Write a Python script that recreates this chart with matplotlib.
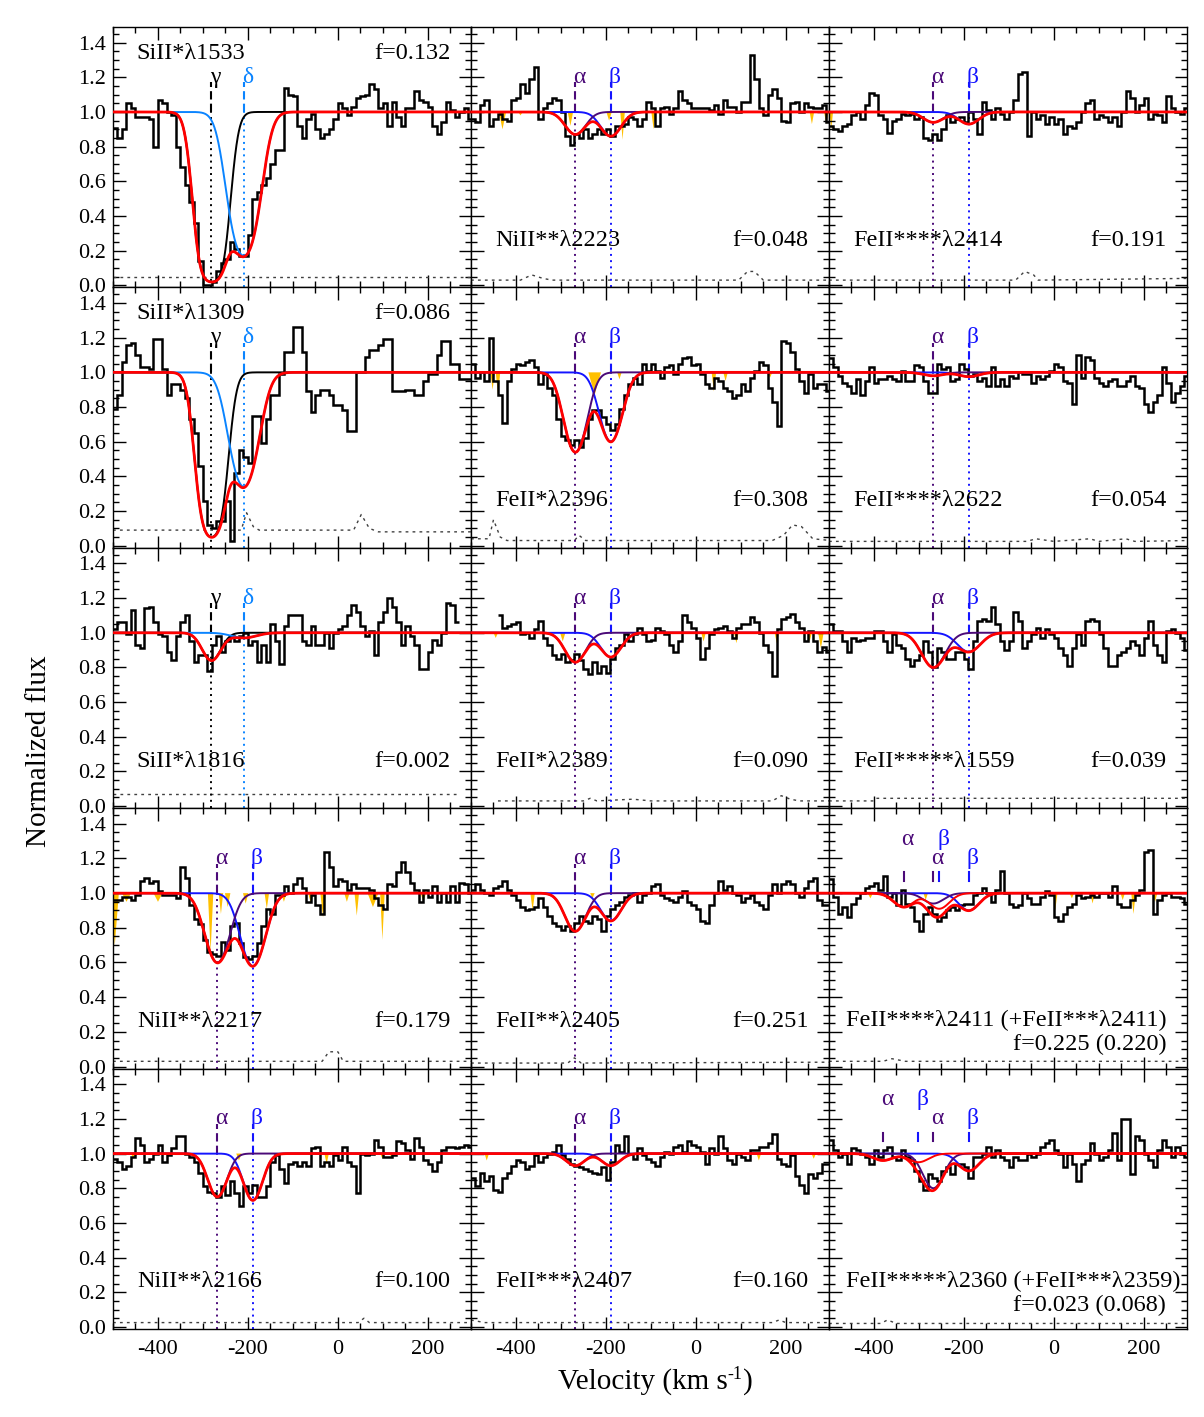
import numpy as np
import matplotlib.pyplot as plt
from matplotlib.ticker import MultipleLocator, FormatStrFormatter

plt.rcParams['font.family'] = ['Liberation Serif', 'DejaVu Serif']
plt.rcParams['axes.unicode_minus'] = False

nan = np.nan
# 10 km/s bins from -500 to 300 km/s
vel_edges = np.arange(-500, 301, 10)

# ---- normalized flux, one list per panel ----
flux_sii1533 = [0.91, 0.85, 0.90, 1.05, 1.02, 0.97, 0.97, 0.97, 0.96, 0.80,
                1.07, 1.05, 1.00, 0.98, 0.80, 0.68, 0.58, 0.48, 0.36, 0.14,
                0.00, 0.00, 0.02, 0.08, 0.13, 0.15, 0.25, 0.21, 0.17, 0.17,
                0.29, 0.50, 0.54, 0.58, 0.62, 0.70, 0.78, 0.78, 1.14, 1.10,
                1.09, 0.92, 0.85, 0.96, 0.99, 0.90, 0.85, 0.87, 0.90, 0.96,
                1.05, 1.02, 0.98, 1.03, 1.08, 1.09, 1.10, 1.16, 1.13, 1.02,
                1.05, 0.92, 1.06, 0.97, 0.92, 1.02, 1.02, 1.12, 1.07, 1.06,
                1.03, 0.92, 0.87, 0.94, 1.06, 1.01, 0.97, 1.00, 1.02, 0.96]
flux_sii1309 = [0.79, 0.87, 1.06, 1.16, 1.17, 1.10, 1.03, 1.03, 1.02, 1.19,
                1.19, 1.02, 0.87, 0.93, 0.93, 0.90, 0.85, 0.73, 0.65, 0.46,
                0.26, 0.12, 0.10, 0.14, 0.14, 0.26, 0.03, 0.42, 0.55, 0.51,
                0.48, 0.75, 0.75, 0.59, 0.73, 0.87, 0.87, 0.99, 1.12, 1.12,
                1.26, 1.26, 1.12, 0.89, 0.77, 0.87, 0.90, 0.90, 0.87, 0.81,
                0.81, 0.78, 0.66, 0.66, 1.00, 1.00, 1.09, 1.13, 1.13, 1.16,
                1.19, 1.19, 0.89, 0.89, 0.89, 0.90, 0.90, 0.87, 0.87, 0.95,
                0.99, 0.99, 1.10, 1.18, 1.18, 1.05, 1.05, 0.96, 0.96, 0.96]
flux_sii1816 = [1.02, 1.06, 1.06, 0.99, 1.13, 0.93, 0.91, 1.14, 1.15, 1.06,
                0.99, 0.98, 0.89, 0.84, 0.98, 1.06, 1.10, 0.95, 0.83, 0.87,
                0.87, 0.78, 0.93, 0.98, 0.89, 0.95, 0.98, 0.95, 0.98, 1.00,
                0.93, 0.95, 0.83, 0.93, 0.83, 1.05, 0.95, 0.82, 1.04, 1.10,
                1.10, 1.10, 0.95, 0.93, 1.04, 0.93, 0.93, 1.00, 0.91, 1.00,
                1.02, 1.04, 1.10, 1.16, 1.12, 1.04, 0.98, 1.01, 0.87, 1.06,
                1.12, 1.20, 1.15, 1.06, 0.93, 1.04, 0.98, 0.93, 0.79, 0.79,
                0.89, 0.96, 0.93, 1.00, 1.17, 1.16, 1.06, nan, nan, nan]
flux_nii2217 = [0.96, 0.96, 0.98, 0.98, 0.96, 0.99, 1.07, 1.09, 1.06, 1.07,
                1.01, 0.99, 0.99, 0.99, 0.97, 1.15, 1.09, 0.93, 0.85, 0.82,
                0.73, 0.66, 0.65, 0.64, 0.72, 0.67, 0.81, 0.83, 0.71, 0.63,
                0.62, 0.64, 0.71, 0.81, 0.91, 0.88, 0.99, 0.99, 1.04, 1.00,
                1.05, 1.09, 1.03, 0.95, 0.99, 0.93, 0.88, 1.24, 1.15, 1.04,
                1.08, 1.07, 1.02, 1.05, 1.03, 1.03, 1.03, 1.02, 0.97, 0.93,
                0.91, 1.05, 1.04, 1.12, 1.18, 1.12, 1.06, 1.02, 0.95, 1.02,
                0.98, 1.04, 0.95, 1.00, 0.95, 1.04, 0.95, 1.06, 1.05, 1.00]
flux_nii2166 = [0.97, 0.95, 0.91, 0.93, 0.98, 1.09, 1.05, 0.95, 0.97, 1.00,
                1.05, 0.95, 0.99, 1.03, 1.10, 1.10, 1.00, 0.98, 0.95, 0.89,
                0.81, 0.78, 0.77, 0.75, 0.81, 0.76, 0.84, 0.77, 0.70, 0.81,
                0.77, 0.82, 0.75, 0.75, 0.81, 0.95, 0.99, 0.91, 0.83, 0.94,
                0.95, 0.93, 0.95, 0.93, 1.03, 1.04, 0.93, 0.95, 0.93, 0.99,
                0.96, 1.04, 0.95, 0.93, 0.77, 1.00, 0.99, 1.00, 1.08, 1.04,
                0.98, 0.98, 0.99, 1.07, 1.06, 1.02, 0.97, 1.09, 1.04, 0.96,
                0.94, 0.90, 0.95, 1.02, 1.04, 1.04, 1.03, 1.04, 1.05, 1.04]
flux_nii2223 = [0.96, 0.94, 1.04, 1.07, 0.92, 0.96, 0.99, 0.96, 0.95, 1.07,
                1.08, 1.16, 1.11, 1.19, 1.26, 0.96, 1.02, 1.05, 1.08, 1.07,
                1.00, 0.86, 0.81, 0.87, 0.85, 0.90, 0.85, 0.87, 0.90, 0.87,
                0.90, 0.86, 0.92, 0.92, 0.93, 0.97, 0.96, 0.92, 0.96, 1.06,
                1.02, 0.92, 1.02, 1.03, 0.99, 1.02, 1.12, 1.07, 1.05, 1.02,
                1.02, 1.02, 1.02, 1.01, 1.04, 0.99, 1.07, 1.03, 1.03, 1.00,
                1.06, 1.06, 1.33, 1.19, 1.02, 0.98, 1.10, 1.13, 1.08, 0.95,
                0.94, 1.05, 1.06, 1.00, 1.05, 1.03, 1.02, 1.02, 1.04, 0.94]
flux_feii2396 = [1.05, 0.97, 1.00, 0.95, 1.20, 0.95, 0.87, 0.71, 0.95, 1.02,
                 1.05, 1.04, 1.06, 1.07, 1.03, 0.93, 0.99, 0.91, 0.87, 0.73,
                 0.63, 0.61, 0.58, 0.61, 0.57, 0.62, 0.73, 0.78, 0.78, 0.74,
                 0.70, 0.67, 0.70, 0.79, 0.87, 0.93, 0.97, 0.93, 1.05, 1.01,
                 1.05, 1.01, 0.97, 1.03, 1.04, 0.99, 1.05, 1.08, 1.09, 1.04,
                 1.05, 0.99, 0.93, 0.91, 0.97, 0.95, 0.91, 0.89, 0.85, 0.87,
                 0.93, 0.89, 0.97, 1.01, 1.06, 1.04, 0.91, 0.83, 0.69, 1.18,
                 1.17, 1.12, 1.02, 0.95, 0.88, 0.99, 0.91, 0.93, 0.93, 0.89]
flux_feii2389 = [nan, nan, nan, nan, nan, nan, 1.10, 1.03, 1.04, 1.05,
                 1.06, 0.99, 1.00, 0.97, 1.02, 1.07, 0.97, 0.93, 0.87, 0.85,
                 0.88, 0.83, 0.84, 0.88, 0.84, 0.79, 0.76, 0.83, 0.77, 0.81,
                 0.77, 0.85, 0.91, 0.93, 0.99, 0.95, 0.99, 1.03, 0.99, 0.95,
                 0.96, 1.03, 1.01, 0.99, 0.93, 0.89, 0.95, 1.10, 1.06, 1.03,
                 0.97, 0.85, 0.91, 0.99, 1.02, 1.03, 1.04, 1.01, 0.97, 1.03,
                 1.05, 1.05, 1.09, 1.06, 1.00, 0.93, 0.89, 0.75, 1.02, 1.08,
                 1.09, 1.11, 1.06, 1.03, 0.95, 1.01, 0.95, 0.89, 0.92, 0.89]
flux_feii2405 = [1.02, 1.05, 1.02, 1.00, 0.99, 1.03, 1.04, 1.07, 1.02, 0.99,
                 0.96, 0.92, 0.90, 0.91, 0.92, 0.97, 0.92, 0.87, 0.83, 0.81,
                 0.79, 0.81, 0.78, 0.83, 0.87, 0.84, 0.83, 0.87, 0.85, 0.78,
                 0.87, 0.91, 0.93, 0.95, 0.98, 0.99, 1.00, 0.95, 0.99, 1.00,
                 1.04, 1.05, 0.99, 0.97, 0.96, 0.95, 0.98, 1.01, 0.95, 0.93,
                 0.91, 0.84, 0.83, 0.93, 1.00, 1.07, 1.02, 1.04, 1.00, 0.99,
                 0.95, 0.97, 0.99, 0.95, 0.93, 0.91, 0.99, 1.05, 1.00, 1.05,
                 1.07, 1.05, 1.00, 0.98, 1.03, 1.07, 1.09, 0.96, 0.93, 0.93]
flux_feii2407 = [0.86, 0.81, 0.89, 0.84, 0.87, 0.79, 0.78, 0.86, 0.89, 0.93,
                 0.96, 0.95, 0.91, 0.93, 0.99, 0.95, 0.98, 1.00, 1.01, 1.05,
                 0.99, 0.97, 0.94, 0.93, 0.92, 0.91, 0.90, 0.89, 0.88, 0.92,
                 0.85, 0.95, 1.05, 1.01, 1.10, 1.00, 0.97, 1.03, 0.99, 0.97,
                 0.95, 0.93, 0.98, 1.01, 1.00, 1.04, 1.05, 1.01, 1.07, 1.05,
                 1.04, 1.01, 0.94, 1.03, 1.00, 1.10, 1.03, 0.96, 0.94, 1.00,
                 0.98, 0.96, 1.02, 1.02, 1.04, 1.04, 1.06, 1.11, 0.97, 0.94,
                 0.93, 0.99, 0.87, 0.82, 0.77, 0.88, 0.86, 0.89, 0.94, 0.94]
flux_feii2414 = [0.92, 0.90, 0.89, 0.92, 0.93, 0.98, 1.00, 0.96, 1.04, 1.11,
                 1.10, 0.98, 0.96, 0.88, 0.95, 0.96, 0.99, 0.98, 0.99, 0.96,
                 0.97, 0.85, 0.84, 0.87, 0.84, 0.90, 0.98, 0.94, 0.96, 0.97,
                 0.94, 1.00, 0.96, 0.87, 1.06, 1.01, 0.96, 1.02, 0.99, 0.96,
                 1.00, 1.07, 1.22, 1.23, 0.86, 1.00, 0.96, 0.98, 0.93, 0.97,
                 0.93, 0.96, 0.87, 0.92, 0.91, 0.94, 1.00, 1.05, 1.07, 0.96,
                 0.98, 0.97, 0.94, 0.97, 0.92, 1.00, 1.12, 1.08, 1.00, 1.04,
                 1.08, 0.96, 0.99, 0.98, 0.94, 1.09, 1.02, 1.00, 0.99, 1.02]
flux_feii2622 = [1.08, 1.03, 0.98, 0.94, 0.92, 0.88, 0.96, 0.87, 0.95, 1.03,
                 0.94, 0.96, 0.96, 0.98, 0.96, 0.95, 1.01, 0.95, 0.95, 1.04,
                 1.03, 0.95, 0.88, 0.88, 1.05, 1.02, 1.03, 0.95, 0.96, 1.05,
                 1.02, 0.98, 0.99, 0.95, 0.97, 0.92, 1.03, 0.92, 0.96, 0.92,
                 0.98, 0.97, 1.00, 0.99, 0.99, 0.94, 0.98, 0.96, 0.98, 1.01,
                 1.05, 1.03, 0.95, 0.94, 0.82, 1.10, 0.97, 1.09, 1.07, 0.97,
                 0.94, 0.92, 0.95, 0.96, 0.92, 0.92, 0.95, 0.98, 0.92, 0.91,
                 0.82, 0.77, 0.83, 0.87, 1.03, 0.94, 0.83, 0.88, 0.92, 0.98]
flux_feii1559 = [1.05, 1.01, 1.01, 0.95, 0.89, 0.97, 0.95, 0.96, 0.97, 0.97,
                 1.01, 1.01, 0.95, 0.89, 0.99, 0.93, 0.91, 0.85, 0.81, 0.84,
                 0.87, 0.95, 0.89, 0.80, 0.91, 0.89, 0.85, 0.85, 0.89, 0.89,
                 0.85, 0.79, 0.95, 1.07, 1.08, 1.07, 1.15, 1.05, 0.95, 0.90,
                 0.95, 1.12, 1.07, 0.91, 0.95, 0.99, 1.03, 0.97, 1.02, 0.99,
                 0.97, 0.91, 0.87, 0.81, 0.91, 0.99, 0.93, 1.07, 1.08, 1.07,
                 0.99, 0.91, 0.81, 0.81, 0.87, 0.89, 0.91, 0.95, 0.93, 0.87,
                 0.97, 1.07, 0.93, 0.87, 0.83, 1.01, 1.02, 1.00, 0.97, 0.90]
flux_feii2411 = [1.08, 0.98, 0.88, 0.92, 0.86, 0.94, 0.97, 1.00, 1.03, 1.04,
                 1.06, 1.02, 1.10, 0.98, 1.00, 0.93, 1.02, 0.94, 0.92, 0.84,
                 0.78, 0.88, 0.92, 0.88, 0.84, 0.86, 0.90, 0.92, 0.90, 0.93,
                 0.94, 0.94, 0.99, 1.00, 1.03, 1.00, 0.95, 1.02, 1.13, 1.00,
                 0.94, 0.92, 0.93, 1.00, 0.97, 0.94, 0.94, 0.98, 1.01, 0.99,
                 0.86, 0.84, 0.88, 0.92, 0.94, 0.99, 0.97, 0.98, 0.99, 0.98,
                 1.00, 1.00, 0.98, 1.04, 0.94, 0.92, 0.92, 0.96, 0.99, 1.02,
                 1.24, 1.25, 0.88, 0.96, 0.99, 1.00, 0.98, 0.98, 0.97, 0.94]
flux_feii2360 = [1.08, 1.02, 0.98, 1.00, 0.94, 1.03, 1.02, 1.00, 0.98, 0.94,
                 1.02, 0.98, 1.02, 1.04, 0.98, 0.96, 1.02, 0.98, 0.96, 0.90,
                 0.84, 0.79, 0.88, 0.86, 0.84, 0.90, 0.92, 0.88, 0.94, 0.94,
                 0.92, 0.86, 0.98, 0.98, 1.00, 1.04, 0.98, 1.02, 0.98, 0.96,
                 0.92, 0.98, 0.96, 0.96, 1.00, 0.98, 1.00, 1.04, 1.06, 1.08,
                 1.02, 1.00, 0.92, 1.00, 0.94, 0.84, 0.94, 0.96, 1.06, 1.00,
                 0.96, 0.98, 1.02, 1.12, 0.96, 1.20, 1.20, 0.88, 1.10, 1.08,
                 1.00, 0.96, 0.92, 1.02, 1.08, 1.04, 0.98, 1.04, 1.00, 0.98]

# ---- error spectra, (velocity, sigma) vertices ----
err_sii1533 = [(-500, 0.05), (300, 0.05)]
err_nii2223 = [(-500, 0.03), (-390, 0.03), (-365, 0.06), (-340, 0.04), (-320, 0.03),
               (95, 0.03), (115, 0.08), (130, 0.08), (150, 0.03), (300, 0.03)]
err_feii2414 = [(-500, 0.03), (-85, 0.03), (-65, 0.08), (-45, 0.06), (-35, 0.03), (300, 0.04)]
err_sii1309 = [(-500, 0.09), (-215, 0.09), (-203, 0.19), (-188, 0.11), (-175, 0.09),
               (35, 0.09), (52, 0.18), (70, 0.10), (90, 0.08), (300, 0.08)]
err_feii2396 = [(-500, 0.04), (-460, 0.04), (-450, 0.15), (-435, 0.05), (-420, 0.03),
                (-270, 0.03), (-260, 0.06), (-245, 0.03), (170, 0.03), (195, 0.06),
                (215, 0.12), (235, 0.11), (260, 0.04), (300, 0.03)]
err_feii2622 = [(-500, 0.025), (-60, 0.025), (-40, 0.04), (0, 0.025), (80, 0.04),
                (100, 0.025), (160, 0.04), (180, 0.025), (300, 0.03)]
err_sii1816 = [(-500, 0.07), (270, 0.07)]
err_feii2389 = [(-440, 0.03), (-250, 0.03), (-235, 0.045), (-220, 0.03), (-140, 0.04),
                (-100, 0.03), (170, 0.03), (190, 0.06), (210, 0.04), (230, 0.03), (300, 0.03)]
err_feii1559 = [(-500, 0.03), (-400, 0.03), (-395, 0.045), (300, 0.045)]
err_nii2217 = [(-500, 0.03), (-35, 0.03), (-20, 0.085), (0, 0.085), (12, 0.03), (300, 0.03)]
err_feii2405 = [(-500, 0.02), (-285, 0.02), (-270, 0.05), (-255, 0.02), (300, 0.025)]
err_feii2411 = [(-500, 0.03), (-380, 0.03), (-360, 0.045), (-330, 0.03), (300, 0.03)]
err_nii2166 = [(-500, 0.025), (45, 0.025), (58, 0.05), (70, 0.025), (300, 0.025)]
err_feii2407 = [(-500, 0.04), (-470, 0.025), (170, 0.025), (185, 0.04), (200, 0.025), (300, 0.025)]
err_feii2360 = [(-500, 0.02), (-385, 0.02), (-370, 0.04), (-350, 0.02), (300, 0.02)]

# ---- contaminating features (orange): (velocity, depth, half width) ----
spk_nii2223 = [(-430, 0.10, 8), (-390, 0.02, 5), (-279, 0.08, 6), (-193, 0.05, 6),
               (-163, 0.16, 5), (-94, 0.10, 5), (150, 0.02, 5), (258, 0.07, 5), (290, 0.07, 5)]
spk_feii2414 = [(-495, 0.10, 4)]
spk_feii2396 = [(-452, 0.10, 5), (-440, 0.13, 5), (-225, 0.13, 14), (-170, 0.04, 5),
                (40, 0.11, 5), (66, 0.05, 5), (165, 0.03, 5)]
spk_feii2389 = [(-445, 0.03, 5), (-296, 0.05, 6), (-150, 0.03, 5), (17, 0.05, 5),
                (90, 0.06, 5), (180, 0.06, 5), (253, 0.05, 5), (278, 0.09, 6)]
spk_nii2217 = [(-496, 0.30, 9), (-470, 0.05, 10), (-400, 0.05, 10), (-283, 0.34, 6),
               (-260, 0.12, 5), (-245, 0.08, 6), (-205, 0.06, 6), (-158, 0.09, 5),
               (-120, 0.05, 6), (-60, 0.06, 6), (-33, 0.14, 6), (20, 0.05, 6),
               (42, 0.13, 5), (78, 0.08, 12), (99, 0.27, 5), (190, 0.05, 6)]
spk_feii2405 = [(-363, 0.10, 5), (-230, 0.03, 5), (130, 0.02, 5)]
spk_feii2411 = [(-408, 0.03, 6), (-285, 0.04, 5), (3, 0.10, 5), (40, 0.03, 5),
                (86, 0.06, 5), (153, 0.04, 5), (177, 0.12, 5), (225, 0.05, 5)]
spk_nii2166 = [(-455, 0.03, 5), (-220, 0.04, 6), (-25, 0.06, 5), (99, 0.03, 5), (120, 0.03, 5)]
spk_feii2407 = [(-465, 0.04, 5), (140, 0.04, 5), (262, 0.03, 5)]

# ---- absorption components ----
v_gamma, v_delta = -281, -209
v_alpha, v_beta = -268, -189
# gamma/delta panels: SiII*1533, SiII*1309, SiII*1816
dep_gamma = [0.98, 0.95, 0.16]
wid_gamma = [23, 22, 20]
dep_delta = [0.83, 0.66, 0.03]
wid_delta = [27, 27, 27]
# alpha/beta panels
ab_names = ['nii2223', 'feii2414', 'feii2396', 'feii2622', 'feii2389', 'feii1559',
            'nii2217', 'feii2405', 'feii2411', 'nii2166', 'feii2407', 'feii2360']
dep_alpha = [0.13, 0.06, 0.46, 0.02, 0.17, 0.20, 0.40, 0.22, 0.06, 0.25, 0.07, 0.20]
dep_beta = [0.14, 0.07, 0.40, 0.025, 0.14, 0.11, 0.42, 0.16, 0.10, 0.27, 0.07, 0.10]
wid_ab = [22, 22, 23, 22, 22, 25, 25, 22, 22, 20, 20, 22]
# blended FeII*** transitions (velocity shift of the alpha/beta pair)
blend_names = ['feii2411', 'feii2360']
blend_shift = [-66, -112]
blend_dep_alpha = [0.08, 0.04]
blend_dep_beta = [0.09, 0.05]

names = ['sii1533', 'nii2223', 'feii2414',
         'sii1309', 'feii2396', 'feii2622',
         'sii1816', 'feii2389', 'feii1559',
         'nii2217', 'feii2405', 'feii2411',
         'nii2166', 'feii2407', 'feii2360']
line_labels = ['SiII*λ1533', 'NiII**λ2223', 'FeII****λ2414',
               'SiII*λ1309', 'FeII*λ2396', 'FeII****λ2622',
               'SiII*λ1816', 'FeII*λ2389', 'FeII*****λ1559',
               'NiII**λ2217', 'FeII**λ2405', 'FeII****λ2411 (+FeII***λ2411)',
               'NiII**λ2166', 'FeII***λ2407', 'FeII*****λ2360 (+FeII***λ2359)']
f_labels = ['f=0.132', 'f=0.048', 'f=0.191',
            'f=0.086', 'f=0.308', 'f=0.054',
            'f=0.002', 'f=0.090', 'f=0.039',
            'f=0.179', 'f=0.251', 'f=0.225 (0.220)',
            'f=0.100', 'f=0.160', 'f=0.023 (0.068)']

g = globals()
C_RED = '#ff0000'
C_BLUE = '#1414ff'
C_PURPLE = '#4b0a78'
C_LBLUE = '#0a84ff'
C_ORANGE = '#ffc000'
FS = 17.5

YMIN, YMAX = -0.012, 1.49
vfine = np.linspace(-500, 300, 1601)


def comp(c, d, s):
    return (1.0 - d) ** np.exp(-0.5 * ((vfine - c) / s) ** 2)


def marker(ax, v, sym, color, full=True, ylab=1.2):
    if full:
        ax.plot([v, v], [1.0, 1.17], color=color, lw=1.5, ls=(0, (4, 2)), zorder=2)
        ax.plot([v, v], [YMIN, 1.0], color=color, lw=1.4, ls=(0, (1, 2.2)), zorder=2)
    else:
        ax.plot([v, v], [1.07, 1.12], color=color, lw=1.5, zorder=2)
    ax.text(v + 9, ylab, sym, color=color, ha='center', va='center', fontsize=17)


fig, axes = plt.subplots(5, 3, figsize=(12.04, 14.17), dpi=100, sharex=True, sharey=True)
fig.subplots_adjust(left=113 / 1204, right=1187 / 1204, top=1 - 27 / 1417,
                    bottom=1 - 1329 / 1417, hspace=0, wspace=0)

for k, (ax, name) in enumerate(zip(axes.flat, names)):
    row, col = divmod(k, 3)
    flux = np.array(g['flux_' + name], dtype=float)
    good = np.where(~np.isnan(flux))[0]
    i0, i1 = good[0], good[-1]

    for c, d, w in g.get('spk_' + name, []):
        ax.fill([c - w, c, c + w], [1.0, 1.0 - d, 1.0], color=C_ORANGE, lw=0, zorder=1)

    ev, ef = zip(*g['err_' + name])
    ax.plot(ev, ef, color='0.25', lw=1.0, ls=(0, (2, 3)), zorder=2)

    ax.stairs(flux[i0:i1 + 1], vel_edges[i0:i1 + 2], baseline=None,
              color='black', lw=1.8, zorder=3)

    if col == 0 and row < 3:
        pg = comp(v_gamma, dep_gamma[row], wid_gamma[row])
        pd = comp(v_delta, dep_delta[row], wid_delta[row])
        ax.plot(vfine, pg, color='black', lw=1.4, zorder=4)
        ax.plot(vfine, pd, color=C_LBLUE, lw=1.4, zorder=4)
        total = pg * pd
        marker(ax, v_gamma, 'γ', 'black', ylab=1.2)
        marker(ax, v_delta, 'δ', C_LBLUE, ylab=1.2)
    else:
        j = ab_names.index(name)
        pa = comp(v_alpha, dep_alpha[j], wid_ab[j])
        pb = comp(v_beta, dep_beta[j], wid_ab[j])
        ax.plot(vfine, pb, color=C_BLUE, lw=1.4, zorder=4)
        ax.plot(vfine, pa, color=C_PURPLE, lw=1.4, zorder=4)
        total = pa * pb
        if name in blend_names:
            b = blend_names.index(name)
            sh = blend_shift[b]
            pa2 = comp(v_alpha + sh, blend_dep_alpha[b], wid_ab[j])
            pb2 = comp(v_beta + sh, blend_dep_beta[b], wid_ab[j])
            ax.plot(vfine, pa2 * pb2, color=C_RED, lw=1.4, zorder=4)
            total = total * pa2 * pb2
            marker(ax, v_alpha, 'α', C_PURPLE, full=False, ylab=1.2)
            marker(ax, v_beta, 'β', C_BLUE, full=False, ylab=1.2)
            marker(ax, v_alpha + sh, 'α', C_PURPLE, full=False, ylab=1.31)
            marker(ax, v_beta + sh, 'β', C_BLUE, full=False, ylab=1.31)
        else:
            marker(ax, v_alpha, 'α', C_PURPLE)
            marker(ax, v_beta, 'β', C_BLUE)
    ax.plot(vfine, total, color=C_RED, lw=2.0, zorder=5)

    # labels
    if name in ('sii1533', 'sii1309'):
        ax.text(-447, 1.34, line_labels[k], fontsize=FS, ha='left', va='center')
        ax.text(250, 1.34, f_labels[k], fontsize=FS, ha='right', va='center')
    elif name in blend_names:
        ax.text(-462, 0.265, line_labels[k], fontsize=FS, ha='left', va='center')
        ax.text(250, 0.125, f_labels[k], fontsize=FS, ha='right', va='center')
    else:
        ax.text(-447, 0.26, line_labels[k], fontsize=FS, ha='left', va='center')
        ax.text(250, 0.26, f_labels[k], fontsize=FS, ha='right', va='center')

    ax.set_xlim(-500, 296)
    ax.set_ylim(YMIN, YMAX)
    ax.xaxis.set_major_locator(MultipleLocator(200))
    ax.xaxis.set_minor_locator(MultipleLocator(50))
    ax.yaxis.set_major_locator(MultipleLocator(0.2))
    ax.yaxis.set_minor_locator(MultipleLocator(0.05))
    ax.yaxis.set_major_formatter(FormatStrFormatter('%.1f'))
    ax.tick_params(which='both', direction='in', top=True, right=True, labelsize=16, width=1.0)
    ax.tick_params(which='major', length=9)
    ax.tick_params(which='minor', length=4.5)
    ax.tick_params(axis='x', pad=8)
    ax.tick_params(axis='y', pad=5)
    for sp in ax.spines.values():
        sp.set_linewidth(1.0)

W, H = 1204.0, 1417.0
fig.text(39 / W, 1 - 751 / H, 'Normalized flux', rotation=90,
         ha='center', va='center', fontsize=21)

# x-axis title with a plain-hyphen superscript
renderer = fig.canvas.get_renderer()
parts = [('Velocity (km s', 21, 0), ('-1', 13, 10), (')', 21, 0)]
texts = [fig.text(0, 0, s, fontsize=fs, va='baseline', ha='left') for s, fs, _ in parts]
widths = [t.get_window_extent(renderer).width for t in texts]
x = 655 - sum(widths) / 2
base = 1389
for t, (s, fs, dy), w in zip(texts, parts, widths):
    t.set_position((x / W, 1 - (base - dy) / H))
    x += w

fig.savefig('out.png', dpi=100)
